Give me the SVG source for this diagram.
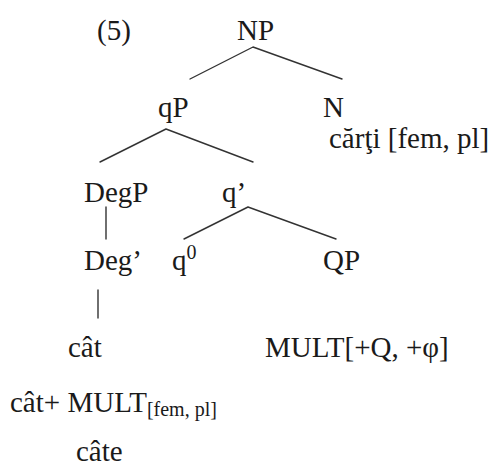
<svg xmlns="http://www.w3.org/2000/svg" width="492" height="468" viewBox="0 0 492 468">
  <style>
    text { font-family: 'Liberation Serif', 'Times New Roman', serif; font-size: 29px; fill: #1a1a1a; }
    .sm { font-size: 20px; }
    .edge { stroke: #333; stroke-width: 1.4; fill: none; stroke-linecap: round; }
  </style>
  <rect width="492" height="468" fill="#ffffff"/>

  <!-- example number -->
  <text x="97" y="40">(5)</text>

  <!-- tree branches -->
  <g id="connectors">
    <path class="edge" d="M253,47 L190,79 M253,47 L342,79"/>
    <path class="edge" d="M166,129 L100,162 M166,129 L253,162"/>
    <path class="edge" d="M106,207 L106,239"/>
    <path class="edge" d="M248,207 L184,239 M248,207 L336,239"/>
    <path class="edge" d="M98,290 L98,318"/>
  </g>

  <g id="NP"><text x="237" y="40">NP</text></g>
  <g id="qP"><text x="158" y="117">qP</text></g>
  <g id="N">
    <text x="323" y="117">N</text>
    <text x="329" y="148">cărţi [fem, pl]</text>
  </g>
  <g id="DegP"><text x="84" y="202">DegP</text></g>
  <g id="q-bar"><text x="222" y="202">q’</text></g>
  <g id="Deg-bar"><text x="84" y="270">Deg’</text></g>
  <g id="q0"><text x="172" y="270">q<tspan class="sm" dy="-11">0</tspan></text></g>
  <g id="QP"><text x="323" y="270">QP</text></g>
  <g id="cat"><text x="68" y="357">cât</text></g>
  <g id="MULT"><text x="265" y="357">MULT[+Q, +φ]</text></g>
  <g id="cat-MULT"><text x="10" y="412">cât+ MULT<tspan class="sm" dy="4">[fem, pl]</tspan></text></g>
  <g id="cate"><text x="76" y="461">câte</text></g>
</svg>
